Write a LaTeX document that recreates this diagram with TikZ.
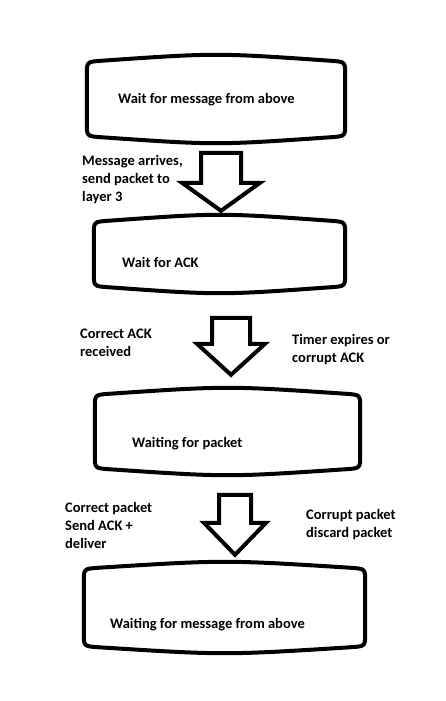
\documentclass[tikz,border=0pt]{standalone}
\usepackage{fontspec}
\setmainfont{Carlito}
\usepackage{tikz}
\usetikzlibrary{calc}

\begin{document}
\begin{tikzpicture}[
    x=1pt, y=-1pt,
    statebox/.style={minimum width=#1, inner sep=0pt},
    outline/.style={line width=4pt, fill=white},
    blockarrow/.style={line width=4pt, fill=white, line join=miter},
    txt/.style={font=\fontsize{14.5}{18}\selectfont\bfseries, inner sep=0pt},
    lbl/.style={txt, align=left, anchor=north west},
  ]
  \useasboundingbox (0,0) rectangle (445,701);

  % States (outline drawn below)
  \node[statebox=258pt, minimum height=84pt] (wait) at (216,99) {};
  \node[statebox=251pt, minimum height=74pt] (ack) at (219.5,254) {};
  \node[statebox=265pt, minimum height=83pt] (pkt) at (227.5,431.5) {};
  \node[statebox=281pt, minimum height=87pt] (msg) at (224.5,607.5) {};

  % Bulged rounded outlines
  \foreach \n in {wait,ack,pkt,msg}
    \draw[outline]
      ([yshift=-18pt]\n.north west)
      .. controls ([yshift=-5pt]\n.north west) .. ([xshift=14pt,yshift=-4pt]\n.north west)
      .. controls ([yshift=4pt]\n.north) .. ([xshift=-14pt,yshift=-4pt]\n.north east)
      .. controls ([yshift=-5pt]\n.north east) .. ([yshift=-18pt]\n.north east)
      -- ([yshift=18pt]\n.south east)
      .. controls ([yshift=5pt]\n.south east) .. ([xshift=-14pt,yshift=4pt]\n.south east)
      .. controls ([yshift=-4pt]\n.south) .. ([xshift=14pt,yshift=4pt]\n.south west)
      .. controls ([yshift=5pt]\n.south west) .. ([yshift=18pt]\n.south west)
      -- cycle;

  % State texts
  \node[txt, anchor=base west] (wait-t) at (118,103) {Wait for message from above};
  \node[txt, anchor=base west] (ack-t) at (122,267) {Wait for ACK};
  \node[txt, anchor=base west] (pkt-t) at (132,447) {Waiting for packet};
  \node[txt, anchor=base west] (msg-t) at (110,628) {Waiting for message from above};

  % Block arrows, tip on the next state
  \coordinate (tip1) at ($(ack.north)+(1.5,-6)$);
  \coordinate (tip2) at ($(pkt.north)+(3.5,-15)$);
  \coordinate (tip3) at ($(msg.north)+(10.5,-9)$);
  \draw[blockarrow] (tip1) -- ++(-39,-28) -- ++(19,0) -- ++(0,-30) -- ++(40,0) -- ++(0,30) -- ++(19,0) -- cycle;
  \draw[blockarrow] (tip2) -- ++(-34,-31) -- ++(15,0) -- ++(0,-26) -- ++(38,0) -- ++(0,26) -- ++(15,0) -- cycle;
  \draw[blockarrow] (tip3) -- ++(-31,-32) -- ++(15,0) -- ++(0,-28) -- ++(32,0) -- ++(0,28) -- ++(15,0) -- cycle;

  % Transition labels
  \node[lbl] (send) at (82,155) {Message arrives,\\send packet to\\layer 3};
  \node[lbl] (okack) at (80,329) {Correct ACK\\received};
  \node[lbl] (timeout) at (292,334) {Timer expires or\\corrupt ACK};
  \node[lbl] (okpkt) at (65,502) {Correct packet\\Send ACK +\\deliver};
  \node[lbl] (badpkt) at (306,509) {Corrupt packet\\discard packet};

\end{tikzpicture}
\end{document}
